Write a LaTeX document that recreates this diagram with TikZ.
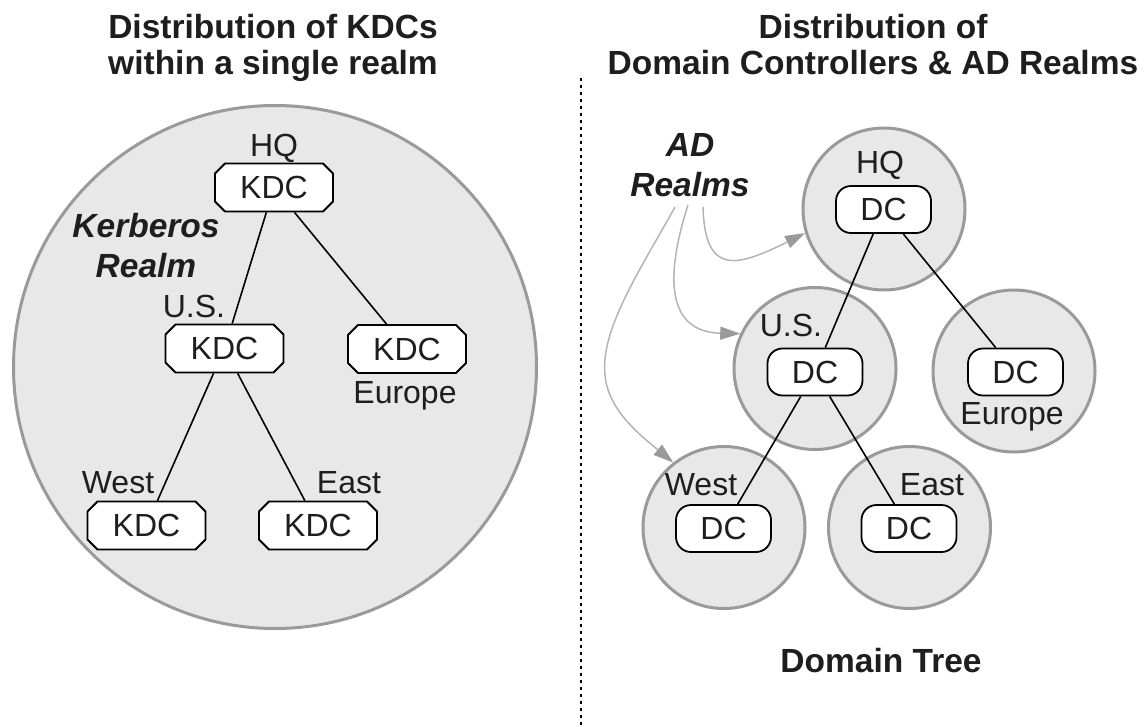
\documentclass[tikz,border=0pt]{standalone}
\usepackage{fontspec}
\setmainfont{Liberation Sans}
\usetikzlibrary{arrows.meta,shapes.misc}
\definecolor{realmfill}{HTML}{E8E8E8}
\definecolor{realmline}{HTML}{9A9A9A}
\definecolor{arrline}{HTML}{B4B4B4}
\definecolor{arrhead}{HTML}{9A9A9A}
\definecolor{inktext}{HTML}{1E1E1E}
\begin{document}
\begin{tikzpicture}[x=1pt,y=-1pt,
  body/.style={font=\fontsize{32}{38}\selectfont, text=inktext},
  ttl/.style={font=\fontsize{33.5}{36}\selectfont\bfseries, align=center, inner sep=0pt, text=inktext},
  realmlbl/.style={font=\fontsize{33.5}{40}\selectfont\bfseries\itshape, align=center, inner sep=0pt, text=inktext},
  kdc/.style={chamfered rectangle, chamfered rectangle xsep=5pt, chamfered rectangle ysep=5pt,
    draw=black, line width=1.8pt, fill=white, minimum width=118pt, minimum height=48pt,
    inner sep=0pt, body},
  dcbox/.style={rectangle, rounded corners=15pt, draw=black, line width=1.8pt, fill=white,
    minimum width=95pt, minimum height=47pt, inner sep=0pt, body},
  lbl/.style={body, anchor=base, inner sep=0pt},
  bigrealm/.style={circle, draw=realmline, fill=realmfill, line width=3pt, minimum size=523pt, inner sep=0pt},
  domrealm/.style={circle, draw=realmline, fill=realmfill, line width=3pt, minimum size=162pt, inner sep=0pt},
  link/.style={draw=black, line width=1.6pt},
  realmarrow/.style={draw=arrline, line width=1.5pt, -{Triangle[length=20pt,width=13pt,color=arrhead]}},
  divider/.style={draw=black, line width=2.5pt, dash pattern=on 2.5pt off 4.5pt}
]
\useasboundingbox[fill=white] (0,0) rectangle (1146,726);

% ---------- titles ----------
\node[ttl] (tleft) at (273,48) {Distribution of KDCs\\within a single realm};
\node[ttl] (tright) at (873,45) {Distribution of\\Domain Controllers \& AD Realms};

% ---------- divider ----------
\coordinate (dtop) at (581,78);
\coordinate (dbot) at (581,726);
\draw[divider] (dtop) -- (dbot);

% ---------- left: single Kerberos realm ----------
\node[bigrealm] (krealm) at (275,367) {};
\node[kdc] (khq) at (274,187.5) {KDC};
\node[kdc] (kus) at (224.5,348.5) {KDC};
\node[kdc] (keu) at (407,349) {KDC};
\node[kdc] (kwest) at (146.5,525.5) {KDC};
\node[kdc] (keast) at (318,525.5) {KDC};
\draw[link] (khq) -- (kus);
\draw[link] (khq) -- (keu);
\draw[link] (kus) -- (kwest);
\draw[link] (kus) -- (keast);
\node[lbl] (lhq) at (274,156) {HQ};
\node[lbl] (lus) at (194,317) {U.S.};
\node[lbl] (leu) at (405,403) {Europe};
\node[lbl] (lwest) at (118,493) {West};
\node[lbl] (least) at (349,493) {East};
\node[realmlbl] (kerb) at (146,245.5) {Kerberos\\Realm};

% ---------- right: domain tree ----------
\node[domrealm] (chq) at (884,209) {};
\node[domrealm] (cus) at (815,368.5) {};
\node[domrealm] (ceu) at (1014,371) {};
\node[domrealm] (cwest) at (724,527.5) {};
\node[domrealm] (ceast) at (909.5,527.5) {};
\node[dcbox] (dhq) at (883.5,209.5) {DC};
\node[dcbox] (dus) at (815,372) {DC};
\node[dcbox] (deu) at (1015.5,372) {DC};
\node[dcbox] (dwest) at (723.5,528.5) {DC};
\node[dcbox] (deast) at (909,528.5) {DC};
\draw[link] (dhq) -- (dus);
\draw[link] (dhq) -- (deu);
\draw[link] (dus) -- (dwest);
\draw[link] (dus) -- (deast);
\node[lbl] (rhq) at (880,173) {HQ};
\node[lbl] (rus) at (791,336) {U.S.};
\node[lbl] (reu) at (1012,424) {Europe};
\node[lbl] (rwest) at (701,495) {West};
\node[lbl] (reast) at (932,495) {East};

\node[realmlbl] (adr) at (690,165) {AD\\Realms};
\coordinate (a1) at (703,207);
\coordinate (a2) at (688,205);
\coordinate (a3) at (675,207);
\draw[realmarrow] (a1) .. controls (705,275) and (735,268) .. (chq.197);
\draw[realmarrow] (a2) .. controls (664,280) and (668,332) .. (cus.155);
\draw[realmarrow] (a3) .. controls (640,270) and (600,330) .. (605,375)
  .. controls (608,410) and (640,435) .. (cwest.128);

\node[font=\fontsize{33.5}{36}\selectfont\bfseries, anchor=base, inner sep=0pt, text=inktext] (dtree) at (881,672) {Domain Tree};
\end{tikzpicture}
\end{document}
